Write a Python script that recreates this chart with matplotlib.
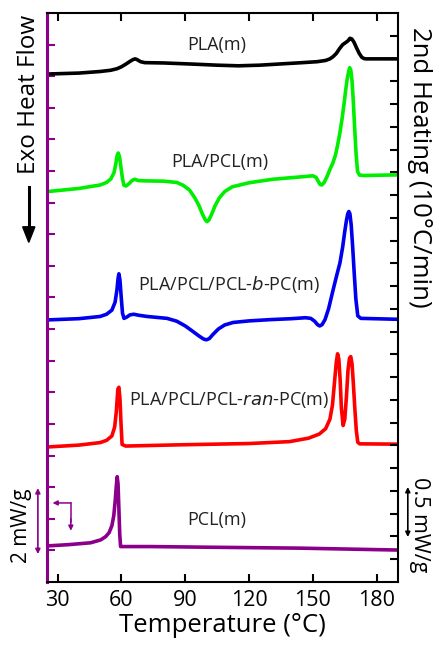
import numpy as np
import matplotlib.pyplot as plt

plt.rcParams['font.family'] = ['Open Sans', 'DejaVu Sans']

# DSC 2nd heating traces, stacked (temperature in degC, offset heat flow)
pla_t = [25, 40, 50, 55, 58, 60, 62, 64, 65.5, 66.5, 67.5, 69, 71, 80, 95, 105, 115, 125,
         135, 145, 152, 156, 158, 159.5, 161, 162.5, 164, 165.3, 166.5, 167.4, 168.3,
         169.3, 170.5, 171.8, 173, 174, 175, 177, 190]
pla_y = [16.07, 16.1, 16.15, 16.19, 16.24, 16.3, 16.38, 16.47, 16.53, 16.55, 16.52, 16.46,
         16.43, 16.42, 16.38, 16.35, 16.33, 16.35, 16.39, 16.43, 16.46, 16.5, 16.55, 16.62,
         16.72, 16.87, 17.0, 17.06, 17.12, 17.2, 17.18, 17.08, 16.9, 16.72, 16.6, 16.56,
         16.55, 16.55, 16.55]

pla_pcl_t = [25, 40, 50, 53, 55, 56.5, 57.4, 58, 58.5, 59.1, 59.8, 60.5, 61.2, 62.2, 63.5,
             65, 66.2, 68, 71, 80, 86, 89, 92, 94.5, 96.5, 98, 99.3, 100.2, 101.1, 102.3,
             104, 106, 108.5, 112, 120, 131, 145, 150, 151.5, 152.5, 153.3, 154.2, 155.3,
             156.6, 158, 159.4, 160.6, 161.7, 162.7, 163.7, 164.6, 165.4, 166.1, 166.8,
             167.3, 167.8, 168.4, 169, 169.6, 170.3, 171, 172, 174, 190]
pla_pcl_y = [12.35, 12.45, 12.56, 12.64, 12.75, 12.95, 13.25, 13.5, 13.57, 13.45, 13.1,
             12.75, 12.55, 12.53, 12.6, 12.7, 12.74, 12.7, 12.69, 12.68, 12.64, 12.55, 12.4,
             12.15, 11.9, 11.65, 11.47, 11.4, 11.45, 11.62, 11.9, 12.15, 12.35, 12.5, 12.63,
             12.74, 12.82, 12.85, 12.8, 12.68, 12.58, 12.56, 12.64, 12.82, 13.05, 13.26,
             13.5, 13.85, 14.21, 14.65, 15.1, 15.55, 15.9, 16.15, 16.27, 16.2, 15.85, 15.2,
             14.4, 13.55, 12.98, 12.87, 12.86, 12.88]

b_pc_t = [25, 40, 50, 53, 55.5, 57, 57.9, 58.4, 58.8, 59.3, 59.9, 60.5, 61.2, 62.5, 64,
          65.8, 68, 72, 81.4, 86, 90, 93.5, 96.5, 98.5, 99.9, 101.3, 103, 105.5, 108.5,
          112.5, 120, 130, 140, 146.5, 149, 150.8, 152.2, 153.2, 154.3, 155.7, 157.4,
          159.5, 161.2, 162.7, 164, 165, 165.8, 166.4, 166.9, 167.4, 168, 168.7, 169.4,
          170.2, 171.1, 172.5, 190]
b_pc_y = [8.29, 8.33, 8.4, 8.47, 8.6, 8.85, 9.25, 9.6, 9.75, 9.55, 9.0, 8.5, 8.34, 8.38,
          8.45, 8.47, 8.44, 8.4, 8.34, 8.25, 8.1, 7.93, 7.78, 7.69, 7.66, 7.7, 7.83, 8.0,
          8.13, 8.21, 8.26, 8.3, 8.33, 8.36, 8.34, 8.25, 8.14, 8.1, 8.14, 8.3, 8.65, 9.24,
          9.7, 10.09, 10.6, 11.1, 11.45, 11.65, 11.72, 11.65, 11.3, 10.6, 9.8, 8.95, 8.42,
          8.34, 8.31]

ran_pc_t = [25, 40, 50, 53, 55.5, 56.8, 57.6, 58.3, 58.8, 59.3, 59.8, 60.3, 62, 88, 120,
            139, 148, 153, 156, 158, 159.2, 160.2, 161, 161.6, 162.2, 162.8, 163.4, 164.2,
            165, 165.8, 166.5, 167.2, 167.8, 168.4, 169, 169.7, 170.4, 171.1, 172, 190]
ran_pc_y = [4.27, 4.33, 4.41, 4.48, 4.62, 4.9, 5.4, 6.1, 6.16, 5.8, 5.0, 4.35, 4.3, 4.34,
            4.38, 4.44, 4.55, 4.68, 4.85, 5.15, 5.6, 6.35, 6.95, 7.22, 7.05, 6.4, 5.5, 4.95,
            5.15, 5.9, 6.7, 7.08, 7.13, 6.9, 6.3, 5.5, 4.8, 4.42, 4.37, 4.36]

pcl_t = [25, 35, 45.5, 50.2, 52.5, 54.2, 55.5, 56.4, 57.1, 57.6, 58, 58.4, 58.8, 59.2,
         59.6, 62, 73.6, 100, 143.9, 190]
pcl_y = [1.14, 1.18, 1.24, 1.33, 1.43, 1.56, 1.78, 2.1, 2.6, 3.05, 3.33, 3.1, 2.3, 1.5,
         1.12, 1.12, 1.12, 1.1, 1.07, 1.01]

curves = [
    (pla_t, pla_y, 'black', 'PLA(m)', 104.6, 16.99),
    (pla_pcl_t, pla_pcl_y, '#00ee00', 'PLA/PCL(m)', 106.3, 13.3),
    (b_pc_t, b_pc_y, '#0000ee', r'PLA/PCL/PCL-$\it{b}$-PC(m)', 110.7, 9.4),
    (ran_pc_t, ran_pc_y, '#ff0000', r'PLA/PCL/PCL-$\it{ran}$-PC(m)', 110.6, 5.76),
    (pcl_t, pcl_y, '#8b008b', 'PCL(m)', 104.6, 1.96),
]

purple = '#8b008b'

fig = plt.figure(figsize=(4.36, 6.48), dpi=100)
ax = fig.add_axes([0.1078, 0.1019, 0.805, 0.878])

for t, y, c, name, lx, ly in curves:
    ax.plot(t, y, color=c, lw=2.6, solid_joinstyle='round', solid_capstyle='round')
    ax.text(lx, ly, name, fontsize=13, ha='center', va='center', color='#222222')

ax.set_xlim(25, 190)
ax.set_ylim(0, 18)
ax.set_xticks([30, 60, 90, 120, 150, 180])
ax.set_yticks(np.arange(1, 18))
ax.set_yticklabels([])
ax.tick_params(axis='x', direction='in', top=True, length=6, width=1.5,
               labelsize=15.5, pad=6)
ax.tick_params(axis='y', direction='in', length=6, width=1.5, color=purple)
ax.set_xlabel('Temperature (°C)', fontsize=18.5, labelpad=1)

for side in ['top', 'right', 'bottom']:
    ax.spines[side].set_linewidth(1.5)
ax.spines['left'].set_color(purple)
ax.spines['left'].set_linewidth(2.2)

# right-hand axis with its own tick spacing
ax2 = ax.twinx()
ax2.set_ylim(25, 0)
ax2.set_yticks(np.arange(1, 25))
ax2.set_yticklabels([])
ax2.tick_params(axis='y', direction='in', length=6, width=1.5)
for sp in ax2.spines.values():
    sp.set_visible(False)

# side labels
fig.text(0.066, 0.855, 'Exo Heat Flow', rotation=90, fontsize=17.5,
         ha='center', va='center')
fig.add_artist(plt.Line2D([0.066, 0.066], [0.712, 0.64], color='black', lw=2.2))
fig.patches.append(plt.Polygon([[0.052, 0.65], [0.080, 0.65], [0.066, 0.626]],
                               closed=True, color='black', transform=fig.transFigure))
fig.text(0.962, 0.742, '2nd Heating (10°C/min)', rotation=-90, fontsize=18.5,
         ha='center', va='center')

# scale bars
fig.text(0.05, 0.188, '2 mW/g', rotation=90, fontsize=15, ha='center', va='center')
ax.annotate('', xy=(-0.026, 0.049), xytext=(-0.026, 0.165), xycoords='axes fraction',
            arrowprops=dict(arrowstyle='<|-|>', color=purple, lw=1.2,
                            mutation_scale=7, shrinkA=0, shrinkB=0),
            annotation_clip=False)
fig.text(0.962, 0.19, '0.5 mW/g', rotation=-90, fontsize=15.5, ha='center', va='center')
ax.annotate('', xy=(1.028, 0.079), xytext=(1.028, 0.167), xycoords='axes fraction',
            arrowprops=dict(arrowstyle='<|-|>', color='black', lw=1.2,
                            mutation_scale=7, shrinkA=0, shrinkB=0),
            annotation_clip=False)

# bent arrow showing which axis the traces use
ax.plot([36.2, 36.2], [2.5, 1.9], color=purple, lw=1.1)
ax.annotate('', xy=(27.6, 2.5), xytext=(36.2, 2.5),
            arrowprops=dict(arrowstyle='-|>', color=purple, lw=1.1,
                            mutation_scale=7, shrinkA=0, shrinkB=0))
ax.annotate('', xy=(36.2, 1.62), xytext=(36.2, 2.0),
            arrowprops=dict(arrowstyle='-|>', color=purple, lw=1.1,
                            mutation_scale=7, shrinkA=0, shrinkB=0))

fig.savefig('out.png', dpi=100)
